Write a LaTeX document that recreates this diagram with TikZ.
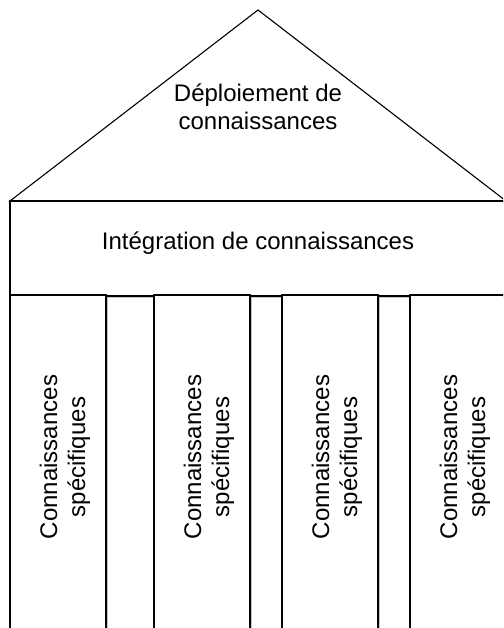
\documentclass[tikz,border=0pt]{standalone}
\usepackage{fontspec}
\setmainfont{Liberation Sans}
\begin{document}
\begin{tikzpicture}[x=1pt,y=1pt,
  outline/.style={draw=black,line width=1.1pt,line join=miter},
  shadowline/.style={draw=black!22,line width=1.2pt,shift={(1.3,-1.3)}},
  label/.style={font=\fontsize{24}{28}\selectfont,align=center,inner sep=0pt}]
\useasboundingbox (0,0) rectangle (503,628);
\clip (0,0) rectangle (503,628);
% shadows
\draw[shadowline] (10,427) -- (258,618) -- (506,427);
\draw[shadowline] (10,332) rectangle (506,427);
\foreach \xa in {10,154,282,410}{
  \draw[shadowline] (\xa,-5) rectangle ({\xa+96},333);
}
% roof
\draw[outline,fill=white] (10,427) -- (258,618) -- (506,427) -- cycle;
% band
\draw[outline,fill=white] (10,332) rectangle (506,427);
% pillars
\foreach \xa in {10,154,282,410}{
  \draw[outline,fill=white] (\xa,-5) rectangle ({\xa+96},333);
}
% texts
\node[label] (roof) at (258,521) {Déploiement de\\connaissances};
\node[label,anchor=base] (band) at (258,378) {Intégration de connaissances};
\node[label,rotate=90] (p1) at (65,171) {Connaissances\\spécifiques};
\node[label,rotate=90] (p2) at (209,171) {Connaissances\\spécifiques};
\node[label,rotate=90] (p3) at (337,171) {Connaissances\\spécifiques};
\node[label,rotate=90] (p4) at (465,171) {Connaissances\\spécifiques};
\end{tikzpicture}
\end{document}
